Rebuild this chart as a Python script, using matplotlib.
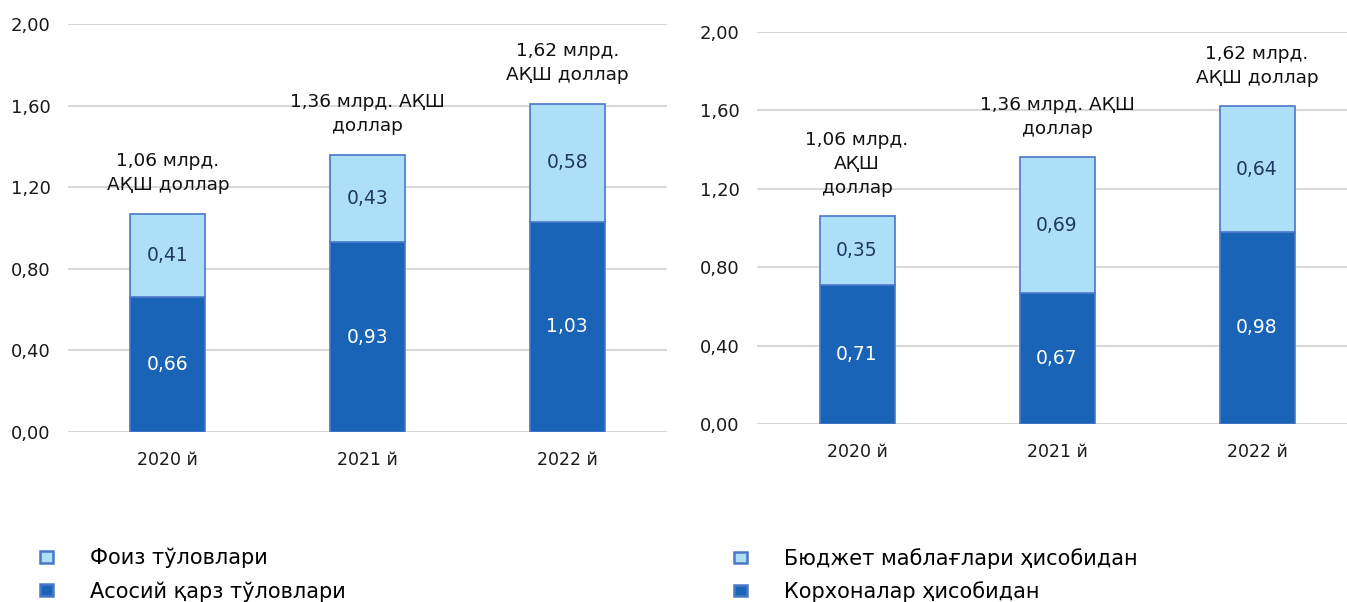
import matplotlib
matplotlib.use("Agg")
import matplotlib.pyplot as plt
from matplotlib.patches import Patch

plt.rcParams['font.family'] = ['DejaVu Sans']

years = ['2020 й', '2021 й', '2022 й']

# Left chart
left_principal = [0.66, 0.93, 1.03]
left_interest = [0.41, 0.43, 0.58]
left_totals = ['1,06 млрд.\nАҚШ доллар', '1,36 млрд. АҚШ\nдоллар', '1,62 млрд.\nАҚШ доллар']
left_legend = ['Фоиз тўловлари', 'Асосий қарз тўловлари']

# Right chart
right_enterprise = [0.71, 0.67, 0.98]
right_budget = [0.35, 0.69, 0.64]
right_totals = ['1,06 млрд.\nАҚШ\nдоллар', '1,36 млрд. АҚШ\nдоллар', '1,62 млрд.\nАҚШ доллар']
right_legend = ['Бюджет маблағлари ҳисобидан', 'Корхоналар ҳисобидан']

yticks = [0.0, 0.4, 0.8, 1.2, 1.6, 2.0]

DARK = '#1A64B8'
LIGHT = '#ADE0F8'
EDGE = '#4A78C8'
NAVY = '#1F3864'
GRID = '#D9D9D9'

W, H = 1347, 602
fig = plt.figure(figsize=(W / 100, H / 100), dpi=100)

ax1 = fig.add_axes([68 / W, 1 - 432 / H, (667 - 68) / W, (432 - 24) / H])
ax2 = fig.add_axes([757 / W, 1 - 424 / H, (1347 - 757) / W, (424 - 32) / H])


def fmt(v):
    return f"{v:.2f}".replace('.', ',')


def draw(ax, bottom_vals, top_vals, totals, xlim):
    x = list(range(len(years)))
    b1 = ax.bar(x, bottom_vals, width=0.375, color=DARK, edgecolor=EDGE, linewidth=1.2, zorder=3)
    b2 = ax.bar(x, top_vals, width=0.375, bottom=bottom_vals, color=LIGHT, edgecolor=EDGE,
                linewidth=1.2, zorder=3)
    for i in x:
        ax.text(i, bottom_vals[i] / 2, fmt(bottom_vals[i]), ha='center', va='center',
                color='white', fontsize=13.5, zorder=4)
        ax.text(i, bottom_vals[i] + top_vals[i] / 2, fmt(top_vals[i]), ha='center', va='center',
                color=NAVY, fontsize=13.5, zorder=4)
        ax.annotate(totals[i], xy=(i, bottom_vals[i] + top_vals[i]), xytext=(0, 14),
                    textcoords='offset points', ha='center', va='bottom', fontsize=13.3,
                    color='#111111', linespacing=1.42, zorder=4)
    ax.set_ylim(0, 2.0)
    ax.set_xlim(*xlim)
    ax.set_yticks(yticks)
    ax.set_yticklabels([fmt(v) for v in yticks], fontsize=13, color='#1a1a1a')
    ax.set_xticks(x)
    ax.set_xticklabels(years, fontsize=12.5, color='#1a1a1a')
    ax.tick_params(axis='both', length=0)
    ax.tick_params(axis='x', pad=14)
    ax.tick_params(axis='y', pad=12.5)
    for s in ax.spines.values():
        s.set_visible(False)
    ax.yaxis.grid(True, color=GRID, linewidth=1.5, zorder=0)
    ax.set_axisbelow(True)
    ax.patch.set_alpha(0)
    return b1, b2


draw(ax1, left_principal, left_interest, left_totals, (-0.5, 2.5))
draw(ax2, right_enterprise, right_budget, right_totals, (-0.5, 2.45))

h_light = Patch(facecolor=LIGHT, edgecolor=EDGE, linewidth=1.8)
h_dark = Patch(facecolor=DARK, edgecolor=EDGE, linewidth=1.8)

for labels, xpos in ((left_legend, 40 / W), (right_legend, 734 / W)):
    fig.legend([h_light, h_dark], labels, loc='upper left', bbox_to_anchor=(xpos, 1 - 548 / H),
               frameon=False, fontsize=15, handlelength=0.62, handleheight=0.45,
               handletextpad=1.8, labelspacing=0.6, borderpad=0, borderaxespad=0)

fig.savefig('out.png', dpi=100, facecolor='white')
